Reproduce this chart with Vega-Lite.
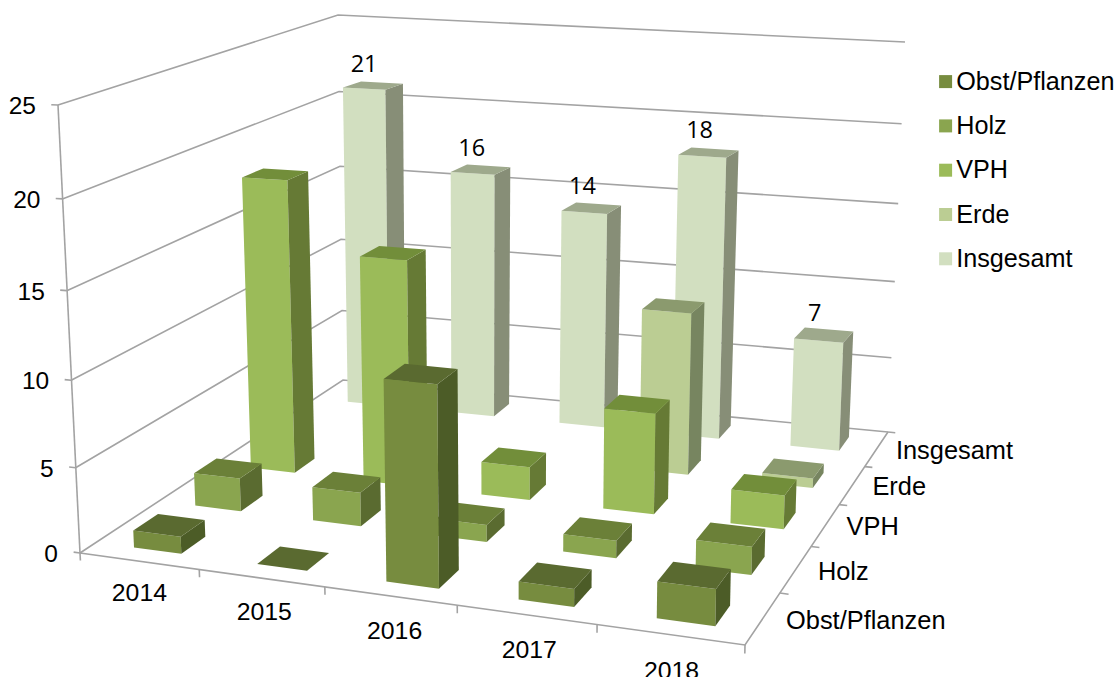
{"$schema":"https://vega.github.io/schema/vega-lite/v6.json","width":1119,"height":677,"padding":0,"autosize":"none","background":"white","config":{"view":{"stroke":null}},
"datasets":{
"bars":[
{"year":"2014","series":"Insgesamt","value":21},{"year":"2015","series":"Insgesamt","value":16},{"year":"2016","series":"Insgesamt","value":14},{"year":"2017","series":"Insgesamt","value":18},{"year":"2018","series":"Insgesamt","value":7},
{"year":"2017","series":"Erde","value":10},{"year":"2018","series":"Erde","value":0.6},
{"year":"2014","series":"VPH","value":17.9},{"year":"2015","series":"VPH","value":13.7},{"year":"2016","series":"VPH","value":2},{"year":"2017","series":"VPH","value":6},{"year":"2018","series":"VPH","value":2},
{"year":"2014","series":"Holz","value":2},{"year":"2015","series":"Holz","value":2},{"year":"2016","series":"Holz","value":1},{"year":"2017","series":"Holz","value":1},{"year":"2018","series":"Holz","value":1.6},
{"year":"2014","series":"Obst/Pflanzen","value":1},{"year":"2015","series":"Obst/Pflanzen","value":0},{"year":"2016","series":"Obst/Pflanzen","value":11.2},{"year":"2017","series":"Obst/Pflanzen","value":1},{"year":"2018","series":"Obst/Pflanzen","value":2}],
"lines":[
{"id":"g0","k":0,"yr":0,"ser":0,"val":0},{"id":"g0","k":1,"yr":0,"ser":5,"val":0},{"id":"g0","k":2,"yr":5,"ser":5,"val":0},
{"id":"g5","k":0,"yr":0,"ser":0,"val":5},{"id":"g5","k":1,"yr":0,"ser":5,"val":5},{"id":"g5","k":2,"yr":5,"ser":5,"val":5},
{"id":"g10","k":0,"yr":0,"ser":0,"val":10},{"id":"g10","k":1,"yr":0,"ser":5,"val":10},{"id":"g10","k":2,"yr":5,"ser":5,"val":10},
{"id":"g15","k":0,"yr":0,"ser":0,"val":15},{"id":"g15","k":1,"yr":0,"ser":5,"val":15},{"id":"g15","k":2,"yr":5,"ser":5,"val":15},
{"id":"g20","k":0,"yr":0,"ser":0,"val":20},{"id":"g20","k":1,"yr":0,"ser":5,"val":20},{"id":"g20","k":2,"yr":5,"ser":5,"val":20},
{"id":"g25","k":0,"yr":0,"ser":0,"val":25},{"id":"g25","k":1,"yr":0,"ser":5,"val":25},{"id":"g25","k":2,"yr":5,"ser":5,"val":25},
{"id":"left","k":0,"yr":0,"ser":0,"val":0},{"id":"left","k":1,"yr":0,"ser":0,"val":25},
{"id":"front","k":0,"yr":0,"ser":0,"val":0},{"id":"front","k":1,"yr":5,"ser":0,"val":0},{"id":"front","k":2,"yr":5,"ser":5,"val":0},
{"id":"vt0","k":0,"yr":0,"ser":0,"val":0},{"id":"vt0","k":1,"yr":-0.055,"ser":0,"val":0},
{"id":"vt5","k":0,"yr":0,"ser":0,"val":5},{"id":"vt5","k":1,"yr":-0.055,"ser":0,"val":5},
{"id":"vt10","k":0,"yr":0,"ser":0,"val":10},{"id":"vt10","k":1,"yr":-0.055,"ser":0,"val":10},
{"id":"vt15","k":0,"yr":0,"ser":0,"val":15},{"id":"vt15","k":1,"yr":-0.055,"ser":0,"val":15},
{"id":"vt20","k":0,"yr":0,"ser":0,"val":20},{"id":"vt20","k":1,"yr":-0.055,"ser":0,"val":20},
{"id":"vt25","k":0,"yr":0,"ser":0,"val":25},{"id":"vt25","k":1,"yr":-0.055,"ser":0,"val":25},
{"id":"yt0","k":0,"yr":0,"ser":0,"val":0},{"id":"yt0","k":1,"yr":0,"ser":0,"val":-0.45},
{"id":"yt1","k":0,"yr":1,"ser":0,"val":0},{"id":"yt1","k":1,"yr":1,"ser":0,"val":-0.45},
{"id":"yt2","k":0,"yr":2,"ser":0,"val":0},{"id":"yt2","k":1,"yr":2,"ser":0,"val":-0.45},
{"id":"yt3","k":0,"yr":3,"ser":0,"val":0},{"id":"yt3","k":1,"yr":3,"ser":0,"val":-0.45},
{"id":"yt4","k":0,"yr":4,"ser":0,"val":0},{"id":"yt4","k":1,"yr":4,"ser":0,"val":-0.45},
{"id":"yt5","k":0,"yr":5,"ser":0,"val":0},{"id":"yt5","k":1,"yr":5,"ser":0,"val":-0.45},
{"id":"st1","k":0,"yr":5,"ser":1,"val":0},{"id":"st1","k":1,"yr":5.06,"ser":1,"val":0},
{"id":"st2","k":0,"yr":5,"ser":2,"val":0},{"id":"st2","k":1,"yr":5.06,"ser":2,"val":0},
{"id":"st3","k":0,"yr":5,"ser":3,"val":0},{"id":"st3","k":1,"yr":5.06,"ser":3,"val":0},
{"id":"st4","k":0,"yr":5,"ser":4,"val":0},{"id":"st4","k":1,"yr":5.06,"ser":4,"val":0},
{"id":"st5","k":0,"yr":5,"ser":5,"val":0},{"id":"st5","k":1,"yr":5.06,"ser":5,"val":0}],
"years":[{"year":"2014"},{"year":"2015"},{"year":"2016"},{"year":"2017"},{"year":"2018"}],
"seriesNames":[{"series":"Obst/Pflanzen"},{"series":"Holz"},{"series":"VPH"},{"series":"Erde"},{"series":"Insgesamt"}],
"ticks":[{"val":0},{"val":5},{"val":10},{"val":15},{"val":20},{"val":25}]},
"resolve":{"scale":{"color":"independent"}},
"layer":[
{"data":{"name":"lines"},
 "transform":[{"calculate":"datum.yr/5","as":"u"},{"calculate":"datum.ser/5","as":"v"},{"calculate":"datum.val/25","as":"t"},
 {"calculate":"(571.15*datum.u+349.86*datum.v+80)/(1-0.12597*datum.u+0.25324*datum.v)+datum.t*((1-datum.u)*(1-datum.v)*-22+datum.u*(1-datum.v)*10+(1-datum.u)*datum.v*-5+datum.u*datum.v*17)","as":"sx"},
 {"calculate":"(10.75*datum.u-76.77*datum.v+553)/(1-0.12597*datum.u+0.25324*datum.v)+(datum.t-0.06*datum.t*(1-datum.t))*((1-datum.u)*(1-datum.v)*-448+datum.u*(1-datum.v)*-500+(1-datum.u)*datum.v*-365+datum.u*datum.v*-390)","as":"sy"}],
 "mark":{"type":"line","stroke":"#a3a3a3","strokeWidth":1.6,"interpolate":"linear"},
 "encoding":{"x":{"field":"sx","type":"quantitative","scale":{"domain":[0,1119],"nice":false,"zero":false},"axis":null},
 "y":{"field":"sy","type":"quantitative","scale":{"domain":[677,0],"nice":false,"zero":false},"axis":null},
 "detail":{"field":"id"},"order":{"field":"k","type":"quantitative"}}},
{"data":{"name":"bars"},
 "transform":[
 {"calculate":"indexof(['2014','2015','2016','2017','2018'],datum.year)","as":"yi"},
 {"calculate":"indexof(['Obst/Pflanzen','Holz','VPH','Erde','Insgesamt'],datum.series)","as":"si"},
 {"calculate":"[{f:'front',k:0,a:0,b:0,c:0},{f:'front',k:1,a:1,b:0,c:0},{f:'front',k:2,a:1,b:0,c:1},{f:'front',k:3,a:0,b:0,c:1},{f:'side',k:0,a:1,b:0,c:0},{f:'side',k:1,a:1,b:1,c:0},{f:'side',k:2,a:1,b:1,c:1},{f:'side',k:3,a:1,b:0,c:1},{f:'top',k:0,a:0,b:0,c:1},{f:'top',k:1,a:1,b:0,c:1},{f:'top',k:2,a:1,b:1,c:1},{f:'top',k:3,a:0,b:1,c:1}]","as":"verts"},
 {"flatten":["verts"]},
 {"calculate":"datum.verts.k","as":"k"},
 {"calculate":"datum.series+'|'+datum.verts.f","as":"face"},
 {"calculate":"datum.year+'|'+datum.face","as":"faceId"},
 {"calculate":"0.065+0.2*datum.yi+[0,0.005,0.009,0.007,0.003][datum.yi]*(1-datum.si/4)+0.08*datum.verts.a","as":"u"},
 {"calculate":"0.05+0.205*datum.si+0.08*datum.verts.b","as":"v"},
 {"calculate":"datum.verts.c*datum.value/25","as":"t"},
 {"calculate":"(571.15*datum.u+349.86*datum.v+80)/(1-0.12597*datum.u+0.25324*datum.v)+datum.t*((1-datum.u)*(1-datum.v)*-22+datum.u*(1-datum.v)*10+(1-datum.u)*datum.v*-5+datum.u*datum.v*17)","as":"sx"},
 {"calculate":"(10.75*datum.u-76.77*datum.v+553)/(1-0.12597*datum.u+0.25324*datum.v)+(datum.t-0.06*datum.t*(1-datum.t))*((1-datum.u)*(1-datum.v)*-448+datum.u*(1-datum.v)*-500+(1-datum.u)*datum.v*-365+datum.u*datum.v*-390)","as":"sy"}],
 "mark":{"type":"line","filled":true,"interpolate":"linear-closed","strokeWidth":0},
 "encoding":{"x":{"field":"sx","type":"quantitative","scale":{"domain":[0,1119],"nice":false,"zero":false},"axis":null},
 "y":{"field":"sy","type":"quantitative","scale":{"domain":[677,0],"nice":false,"zero":false},"axis":null},
 "detail":{"field":"faceId"},"order":{"field":"k","type":"quantitative"},
 "color":{"field":"face","type":"nominal","legend":null,"scale":{"domain":["Obst/Pflanzen|front","Obst/Pflanzen|top","Obst/Pflanzen|side","Holz|front","Holz|top","Holz|side","VPH|front","VPH|top","VPH|side","Erde|front","Erde|top","Erde|side","Insgesamt|front","Insgesamt|top","Insgesamt|side"],
 "range":["#778c3f","#5a6a30","#4c5c27","#8aa54f","#6b8038","#5a6b30","#9bbb59","#728e3a","#667a35","#bbcd93","#8b9a6e","#778560","#d2dfc0","#9ea98c","#878e77"]}}}},
{"data":{"name":"bars"},
 "transform":[{"filter":"datum.series=='Insgesamt'"},
 {"calculate":"indexof(['2014','2015','2016','2017','2018'],datum.year)","as":"yi"},
 {"calculate":"0.105+0.2*datum.yi","as":"u"},{"calculate":"0.91","as":"v"},{"calculate":"datum.value/25","as":"t"},
 {"calculate":"(571.15*datum.u+349.86*datum.v+80)/(1-0.12597*datum.u+0.25324*datum.v)+datum.t*((1-datum.u)*(1-datum.v)*-22+datum.u*(1-datum.v)*10+(1-datum.u)*datum.v*-5+datum.u*datum.v*17)","as":"sx"},
 {"calculate":"(10.75*datum.u-76.77*datum.v+553)/(1-0.12597*datum.u+0.25324*datum.v)+(datum.t-0.06*datum.t*(1-datum.t))*((1-datum.u)*(1-datum.v)*-448+datum.u*(1-datum.v)*-500+(1-datum.u)*datum.v*-365+datum.u*datum.v*-390)","as":"sy"}],
 "mark":{"type":"text","font":"Open Sans","fontSize":23.5,"fill":"#000","baseline":"middle","align":"center","dy":-21,"dx":-9},
 "encoding":{"x":{"field":"sx","type":"quantitative","scale":{"domain":[0,1119],"nice":false,"zero":false},"axis":null},
 "y":{"field":"sy","type":"quantitative","scale":{"domain":[677,0],"nice":false,"zero":false},"axis":null},
 "text":{"field":"value","type":"nominal"}}},
{"data":{"name":"years"},
 "transform":[{"calculate":"indexof(['2014','2015','2016','2017','2018'],datum.year)","as":"yi"},
 {"calculate":"[0.165,0.361,0.555,0.745,0.935][datum.yi]","as":"u"},{"calculate":"-0.12","as":"v"},
 {"calculate":"(571.15*datum.u+349.86*datum.v+80)/(1-0.12597*datum.u+0.25324*datum.v)","as":"sx"},
 {"calculate":"(10.75*datum.u-76.77*datum.v+553)/(1-0.12597*datum.u+0.25324*datum.v)","as":"sy"}],
 "mark":{"type":"text","font":"Liberation Sans","fontSize":24.8,"fill":"#000","baseline":"middle","align":"center"},
 "encoding":{"x":{"field":"sx","type":"quantitative","scale":{"domain":[0,1119],"nice":false,"zero":false},"axis":null},
 "y":{"field":"sy","type":"quantitative","scale":{"domain":[677,0],"nice":false,"zero":false},"axis":null},
 "text":{"field":"year","type":"nominal"}}},
{"data":{"name":"seriesNames"},
 "transform":[{"calculate":"indexof(['Obst/Pflanzen','Holz','VPH','Erde','Insgesamt'],datum.series)","as":"si"},
 {"calculate":"1.031","as":"u"},{"calculate":"0.1+0.2*datum.si","as":"v"},
 {"calculate":"(571.15*datum.u+349.86*datum.v+80)/(1-0.12597*datum.u+0.25324*datum.v)","as":"sx"},
 {"calculate":"(10.75*datum.u-76.77*datum.v+553)/(1-0.12597*datum.u+0.25324*datum.v)","as":"sy"}],
 "mark":{"type":"text","font":"Liberation Sans","fontSize":25.4,"fill":"#000","baseline":"middle","align":"left"},
 "encoding":{"x":{"field":"sx","type":"quantitative","scale":{"domain":[0,1119],"nice":false,"zero":false},"axis":null},
 "y":{"field":"sy","type":"quantitative","scale":{"domain":[677,0],"nice":false,"zero":false},"axis":null},
 "text":{"field":"series","type":"nominal"}}},
{"data":{"name":"ticks"},
 "transform":[{"calculate":"datum.val/25","as":"t"},{"calculate":"80-22*datum.t","as":"sx"},{"calculate":"553-448*(datum.t-0.06*datum.t*(1-datum.t))","as":"sy"}],
 "mark":{"type":"text","font":"Liberation Sans","fontSize":24.5,"fill":"#000","baseline":"middle","align":"right","dx":-22,"dy":2},
 "encoding":{"x":{"field":"sx","type":"quantitative","scale":{"domain":[0,1119],"nice":false,"zero":false},"axis":null},
 "y":{"field":"sy","type":"quantitative","scale":{"domain":[677,0],"nice":false,"zero":false},"axis":null},
 "text":{"field":"val","type":"nominal"}}},
{"data":{"name":"seriesNames"},
 "mark":{"type":"point","filled":true,"shape":"square","size":0},
 "encoding":{"color":{"field":"series","type":"nominal","scale":{"domain":["Obst/Pflanzen","Holz","VPH","Erde","Insgesamt"],"range":["#778c3f","#8aa54f","#9bbb59","#bbcd93","#d2dfc0"]},
 "legend":{"orient":"none","legendX":933,"legendY":69,"title":null,"symbolType":"square","symbolSize":169,"symbolStrokeWidth":0,"symbolOpacity":1,"labelFont":"Liberation Sans","labelFontSize":25.2,"labelColor":"#000","labelLimit":300,"labelOffset":-2,"rowPadding":18.3}}}}
]}
